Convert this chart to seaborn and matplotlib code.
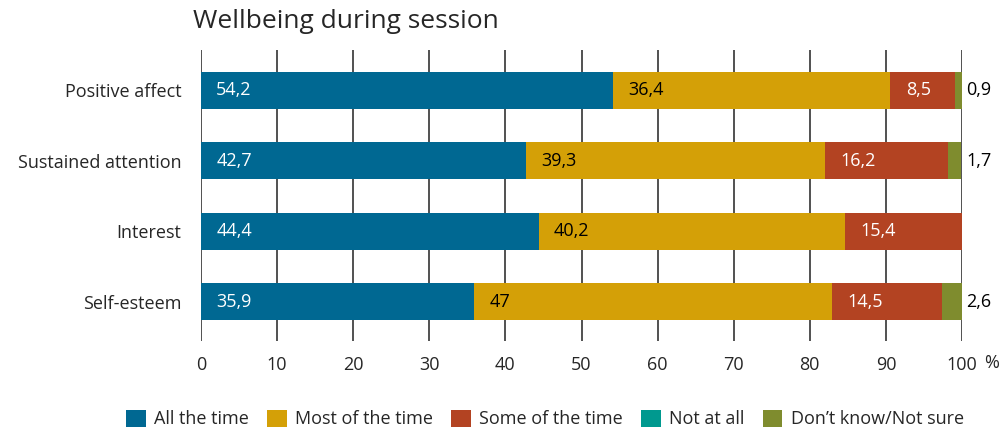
import matplotlib
matplotlib.use("Agg")
import matplotlib.pyplot as plt
import seaborn as sns
import pandas as pd
import numpy as np
from matplotlib.patches import Patch

categories = ["Positive affect", "Sustained attention", "Interest", "Self-esteem"]
series_names = ["All the time", "Most of the time", "Some of the time", "Not at all", "Don\u2019t know/Not sure"]
all_the_time = [54.2, 42.7, 44.4, 35.9]
most_of_the_time = [36.4, 39.3, 40.2, 47.0]
some_of_the_time = [8.5, 16.2, 15.4, 14.5]
not_at_all = [0.0, 0.0, 0.0, 0.0]
dont_know = [0.9, 1.7, 0.0, 2.6]
colors = ["#006892", "#D4A007", "#B34322", "#00998F", "#7F8C2E"]
text_colors = ["white", "black", "white", "white", "black"]
x_ticks = [0, 10, 20, 30, 40, 50, 60, 70, 80, 90, 100]

sns.set_theme(style="white")
plt.rcParams["font.family"] = ["Open Sans", "DejaVu Sans"]

FS = 13

series = [all_the_time, most_of_the_time, some_of_the_time, not_at_all, dont_know]
cum = np.cumsum(np.array(series), axis=0)

fig = plt.figure(figsize=(10.07, 4.29), dpi=100)
ax = fig.add_axes([201/1007, 1-341/429, (962-201)/1007, (341-50)/429])

for i in range(len(series) - 1, -1, -1):
    df = pd.DataFrame({"cat": categories, "val": cum[i]})
    sns.barplot(data=df, x="val", y="cat", orient="h", color=colors[i],
                width=0.53, saturation=1, ax=ax, zorder=2, linewidth=0)

def fmt(v):
    if abs(v - round(v)) < 1e-9:
        return str(int(round(v)))
    return f"{v:.1f}".replace(".", ",")

for j in range(len(categories)):
    left = 0.0
    for i in range(3):
        v = series[i][j]
        if v > 0:
            ax.text(left + 2.0, j, fmt(v), ha="left", va="center",
                    color=text_colors[i], fontsize=FS, zorder=3)
        left += v
    if dont_know[j] > 0:
        ax.text(100.6, j, fmt(dont_know[j]), ha="left", va="center",
                color="black", fontsize=FS, zorder=3, clip_on=False)

ax.set_xlim(0, 100)
ax.set_ylim(3.56, -0.575)
ax.set_xticks(x_ticks)
ax.set_xticklabels([str(t) for t in x_ticks], fontsize=FS)
ax.tick_params(axis="x", length=0, pad=11)
ax.tick_params(axis="y", length=0, pad=14, labelsize=FS)
ax.set_xlabel("")
ax.set_ylabel("")
ax.set_axisbelow(True)
ax.grid(axis="x", color="#333333", linewidth=1.2)
ax.grid(axis="y", visible=False)
for s in ax.spines.values():
    s.set_visible(False)

fig.text(984/1007, 1-363/429, "%", ha="left", va="center", fontsize=FS)

fig.text(193/1007, 1-22/429, "Wellbeing during session", ha="left", va="center", fontsize=19)

handles = [Patch(facecolor=c, edgecolor="none") for c in colors]
fig.legend(handles, series_names, loc="center", bbox_to_anchor=(545/1007, 1-419/429),
           ncol=5, frameon=False, fontsize=FS, handlelength=1.1, handleheight=1.1,
           handletextpad=0.45, columnspacing=1.0, borderaxespad=0)

fig.savefig("out.png", dpi=100)
